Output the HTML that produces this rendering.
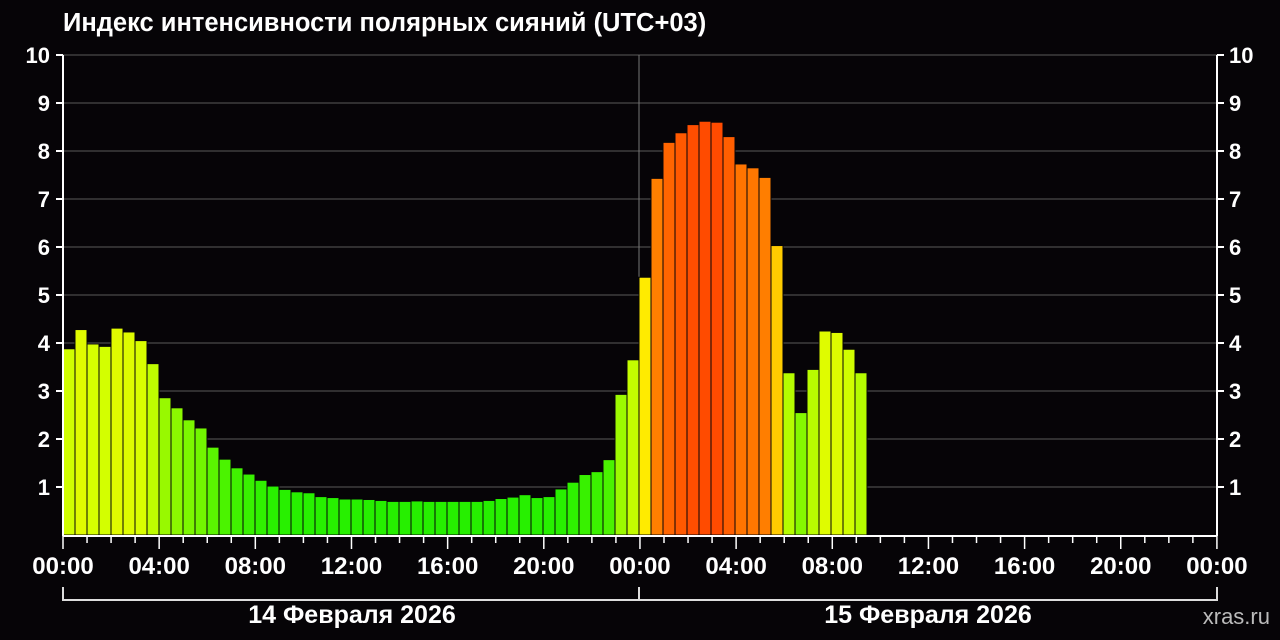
<!DOCTYPE html>
<html><head><meta charset="utf-8"><style>
html,body{margin:0;padding:0;background:#060407;}
svg{display:block;font-family:"Liberation Sans",sans-serif;font-weight:bold;}
</style></head><body>
<svg id="s" width="1280" height="640" xmlns="http://www.w3.org/2000/svg">
<rect width="1280" height="640" fill="#060407"/>
</svg>
<script>
const s=document.getElementById('s');let h='';
const X0=63,X1=1217,Y0=535,U=48;
for(let v=1;v<=10;v++){const y=Y0-v*U;h+=`<line x1="${X0}" x2="${X1}" y1="${y}" y2="${y}" stroke="#5a5a5a" stroke-width="1"/>`;}
h+=`<line x1="639" x2="639" y1="55" y2="535" stroke="#777" stroke-width="1"/>`;
const d=[3.88,4.28,3.98,3.93,4.31,4.23,4.05,3.57,2.86,2.65,2.4,2.23,1.83,1.58,1.4,1.27,1.14,1.02,0.95,0.9,0.88,0.8,0.78,0.75,0.75,0.74,0.72,0.7,0.7,0.71,0.7,0.7,0.7,0.7,0.7,0.72,0.76,0.79,0.84,0.78,0.8,0.96,1.1,1.26,1.32,1.57,2.93,3.65,
5.37,7.43,8.18,8.38,8.55,8.62,8.6,8.3,7.73,7.65,7.45,6.03,3.38,2.55,3.45,4.25,4.22,3.87,3.38];
const stops=[[0,[34,238,0]],[1,[40,240,0]],[2,[100,245,0]],[3,[160,250,0]],[4,[215,255,0]],[5.3,[255,238,0]],[6,[255,205,0]],[7.4,[255,128,0]],[8.2,[255,100,0]],[8.6,[255,75,0]],[10,[255,40,0]]];
function col(v){for(let i=0;i<stops.length-1;i++){const[a,ca]=stops[i],[b,cb]=stops[i+1];if(v<=b){const t=(v-a)/(b-a);return `rgb(${ca.map((c,k)=>Math.round(c+(cb[k]-c)*t)).join(',')})`;}}return 'rgb(255,40,0)';}
d.forEach((v,i)=>{const x=X0+12*i,y=Y0-v*U;h+=`<rect x="${x}" y="${y}" width="12" height="${v*U}" fill="${col(v)}" stroke="#060407" stroke-width="1"/>`;});
h+=`<line x1="${X0}" x2="${X0}" y1="55" y2="536" stroke="#fff" stroke-width="2"/>`;
h+=`<line x1="${X1}" x2="${X1}" y1="55" y2="536" stroke="#fff" stroke-width="2"/>`;
h+=`<line x1="${X0}" x2="${X1}" y1="536" y2="536" stroke="#fff" stroke-width="2"/>`;
for(let v=1;v<=10;v++){const y=Y0-v*U;
h+=`<line x1="56" x2="63" y1="${y}" y2="${y}" stroke="#fff" stroke-width="2"/><line x1="1217" x2="1224" y1="${y}" y2="${y}" stroke="#fff" stroke-width="2"/>`;
h+=`<text x="50" y="${y+8}" fill="#fff" font-size="22" text-anchor="end">${v}</text><text x="1229" y="${y+8}" fill="#fff" font-size="22">${v}</text>`;}
for(let k=0;k<=48;k++){const x=X0+k*24.04;const L=k%4==0?13:7;h+=`<line x1="${x}" x2="${x}" y1="536" y2="${536+L}" stroke="#fff" stroke-width="1.5"/>`;
if(k%4==0){const hh=String((k%24)).padStart(2,'0');h+=`<text x="${x}" y="574" fill="#fff" font-size="24" text-anchor="middle">${hh}:00</text>`;}}
h+=`<path d="M63 587V600H1217V587M639 587V600" stroke="#ddd" stroke-width="2" fill="none"/>`;
h+=`<text x="352" y="623" fill="#fff" font-size="25" text-anchor="middle">14 Февраля 2026</text>`;
h+=`<text x="928" y="623" fill="#fff" font-size="25" text-anchor="middle">15 Февраля 2026</text>`;
h+=`<text x="1270" y="624" fill="#bbb" font-size="22" font-weight="normal" text-anchor="end">xras.ru</text>`;
h+=`<text x="63" y="31" fill="#fff" font-size="25.5">Индекс интенсивности полярных сияний (UTC+03)</text>`;
s.innerHTML+=h;
</script>
</body></html>
